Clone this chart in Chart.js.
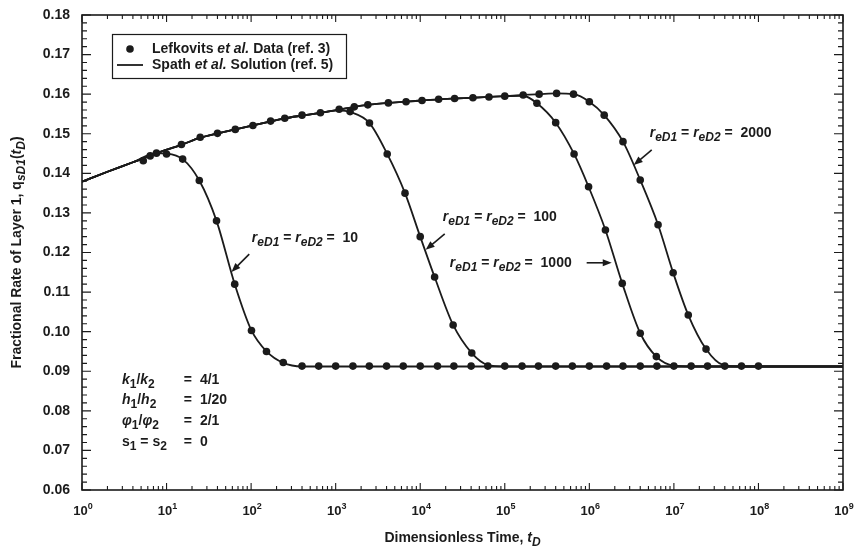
<!DOCTYPE html>
<html>
<head>
  <meta charset="UTF-8">
  <title>Fractional Rate of Layer 1</title>
  <script src="https://cdn.jsdelivr.net/npm/chart.js@4.4.1/dist/chart.umd.min.js"></script>
  <style>
    body { margin: 0; background: #ffffff; }
    canvas { display: block; }
  </style>
</head>
<body>
  <canvas id="rateChart" width="854" height="552"></canvas>

  <script>
    // Spath et al. solution: shared early-time curve, then one tail per reservoir size
    const envT = [1, 2, 4, 7.6, 15, 25, 40, 65, 105, 170, 250, 400, 660, 1100, 1660, 2400, 4200, 6800, 1.05e4, 1.65e4, 2.55e4, 4.2e4, 6.5e4, 1e5, 1.65e5];
    const envQ = [0.1379, 0.1404, 0.1428, 0.1451, 0.1472, 0.1490, 0.1501, 0.1511, 0.1521, 0.1531, 0.1539, 0.1546, 0.1553, 0.1561, 0.1568, 0.1573, 0.1578, 0.1581, 0.1584, 0.1587, 0.1589, 0.1591, 0.1593, 0.1595, 0.1598];

    const tailT10 = [10, 15.5, 24.4, 39, 64, 101, 152, 240, 400, 1e9];
    const tailQ10 = [0.1450, 0.1436, 0.1382, 0.1280, 0.1120, 0.1003, 0.0950, 0.0921, 0.0912, 0.0912];
    const tailT100 = [1100, 1480, 2510, 4070, 6610, 1e4, 1.48e4, 2.45e4, 4.07e4, 6.3e4, 1e5, 1e9];
    const tailQ100 = [0.1559, 0.1555, 0.1527, 0.1449, 0.1350, 0.1240, 0.1138, 0.1017, 0.0946, 0.0916, 0.0912, 0.0912];
    const tailT1000 = [1.65e5, 2.4e5, 4e5, 6.6e5, 9.8e5, 1.55e6, 2.45e6, 4e6, 6.2e6, 1e7, 1.6e7, 1e9];
    const tailQ1000 = [0.1596, 0.1577, 0.1528, 0.1449, 0.1366, 0.1257, 0.1122, 0.0996, 0.0937, 0.0914, 0.0912, 0.0912];
    const tailT2000 = [2.55e5, 4.1e5, 6.5e5, 1e6, 1.5e6, 2.5e6, 4e6, 6.5e6, 9.8e6, 1.48e7, 2.4e7, 3.8e7, 6.3e7, 1e9];
    const tailQ2000 = [0.1600, 0.1602, 0.1600, 0.1581, 0.1547, 0.1480, 0.1383, 0.1270, 0.1149, 0.1042, 0.0956, 0.0916, 0.0912, 0.0912];

    // Lefkovits et al. data points
    const dotT10 = [5.3, 6.4, 7.6, 10, 15.5, 24.4, 39, 64, 101, 152, 240];
    const dotQ10 = [0.1432, 0.1444, 0.1451, 0.1449, 0.1436, 0.1382, 0.1280, 0.1120, 0.1003, 0.0950, 0.0922];
    const dotTEnv = [15, 25, 40, 65, 105, 170, 250, 400, 660, 1100, 1660, 2400, 4200, 6800, 1.05e4, 1.65e4, 2.55e4, 4.2e4, 6.5e4, 1e5, 1.65e5, 2.55e5, 4.1e5, 6.5e5];
    const dotQEnv = [0.1473, 0.1491, 0.1501, 0.1511, 0.1521, 0.1532, 0.1539, 0.1547, 0.1553, 0.1562, 0.1568, 0.1573, 0.1578, 0.1581, 0.1584, 0.1587, 0.1589, 0.1591, 0.1593, 0.1595, 0.1598, 0.1600, 0.1602, 0.1600];
    const dotT100 = [1480, 2510, 4070, 6610, 1e4, 1.48e4, 2.45e4, 4.07e4];
    const dotQ100 = [0.1556, 0.1527, 0.1449, 0.1350, 0.1240, 0.1138, 0.1017, 0.0946];
    const dotT1000 = [2.4e5, 4e5, 6.6e5, 9.8e5, 1.55e6, 2.45e6, 4e6, 6.2e6];
    const dotQ1000 = [0.1577, 0.1528, 0.1449, 0.1366, 0.1257, 0.1122, 0.0996, 0.0937];
    const dotT2000 = [1e6, 1.5e6, 2.5e6, 4e6, 6.5e6, 9.8e6, 1.48e7, 2.4e7];
    const dotQ2000 = [0.1581, 0.1547, 0.1480, 0.1383, 0.1270, 0.1149, 0.1042, 0.0956];
    const dotTLate = [400, 630, 1000, 1600, 2500, 4000, 6300, 1e4, 1.6e4, 2.5e4, 4e4, 6.3e4, 1e5, 1.6e5, 2.5e5, 4e5, 6.3e5, 1e6, 1.6e6, 2.5e6, 4e6, 6.3e6, 1e7, 1.6e7, 2.5e7, 4e7, 6.3e7, 1e8];
    const dotQLate = [0.0913, 0.0913, 0.0913, 0.0913, 0.0913, 0.0913, 0.0913, 0.0913, 0.0913, 0.0913, 0.0913, 0.0913, 0.0913, 0.0913, 0.0913, 0.0913, 0.0913, 0.0913, 0.0913, 0.0913, 0.0913, 0.0913, 0.0913, 0.0913, 0.0913, 0.0913, 0.0913, 0.0913];

    const decades = [1, 1e1, 1e2, 1e3, 1e4, 1e5, 1e6, 1e7, 1e8, 1e9];

    const FONT = '"Liberation Sans", Arial, sans-serif';
    const INK = '#1b1b1b';

    function pairs(ts, qs) {
      return ts.map((t, i) => ({ x: t, y: qs[i] }));
    }

    // shared curve up to where the tail leaves it
    function solution(tailT, tailQ) {
      const head = [];
      envT.forEach((t, i) => { if (t < tailT[0]) head.push({ x: t, y: envQ[i] }); });
      return head.concat(pairs(tailT, tailQ));
    }

    const dots = [].concat(
      pairs(dotT10, dotQ10), pairs(dotTEnv, dotQEnv), pairs(dotT100, dotQ100),
      pairs(dotT1000, dotQ1000), pairs(dotT2000, dotQ2000), pairs(dotTLate, dotQLate)
    );

    // labels: "*x*" italic, "_{x}" subscript, "^{x}" superscript
    function parse(s) {
      const out = [];
      let it = false, mode = '', buf = '';
      const push = () => { if (buf) out.push({ t: buf, it, sub: mode === '_', sup: mode === '^' }); buf = ''; };
      for (let i = 0; i < s.length; i++) {
        const c = s[i];
        if (c === '*') { push(); it = !it; }
        else if ((c === '_' || c === '^') && s[i + 1] === '{') { push(); mode = c; i++; }
        else if (c === '}' && mode) { push(); mode = ''; }
        else buf += c;
      }
      push();
      return out;
    }

    function rich(ctx, s, x, y, size, align, small) {
      const parts = parse(s);
      const sm = small || 0.85;
      const fontOf = p => (p.it ? 'italic ' : '') + 'bold ' + ((p.sub || p.sup) ? Math.round(size * sm) : size) + 'px ' + FONT;
      let w = 0;
      parts.forEach(p => { ctx.font = fontOf(p); w += ctx.measureText(p.t).width; });
      let cx = align === 'center' ? x - w / 2 : x;
      ctx.textAlign = 'left';
      ctx.textBaseline = 'middle';
      parts.forEach(p => {
        ctx.font = fontOf(p);
        const dy = p.sub ? size * 0.32 : p.sup ? -size * 0.38 : 0;
        ctx.fillText(p.t, cx, y + dy);
        cx += ctx.measureText(p.t).width;
      });
    }

    const notes = [
      { text: '*r*_{*eD1*} = *r*_{*eD2*} =  10', at: [102, 0.1237], tail: [95, 0.1196], tip: [58.6, 0.1151] },
      { text: '*r*_{*eD1*} = *r*_{*eD2*} =  100', at: [18500, 0.1290], tail: [19500, 0.1247], tip: [11600, 0.1207] },
      { text: '*r*_{*eD1*} = *r*_{*eD2*} =  1000', at: [22400, 0.1174], tail: [9.3e5, 0.1174], tip: [1.84e6, 0.1174] },
      { text: '*r*_{*eD1*} = *r*_{*eD2*} =  2000', at: [5.18e6, 0.1502], tail: [5.47e6, 0.1459], tip: [3.35e6, 0.1421] }
    ];

    const params = [
      ['*k*_{1}/*k*_{2}', '4/1', 0.0878],
      ['*h*_{1}/*h*_{2}', '1/20', 0.0826],
      ['*φ*_{1}/*φ*_{2}', '2/1', 0.0775],
      ['s_{1} = s_{2}', '0', 0.0722]
    ];

    const decor = {
      id: 'decor',
      afterDraw(chart) {
        const ctx = chart.ctx;
        const a = chart.chartArea;
        const sx = chart.scales.x, sy = chart.scales.y;
        const px = (t, q) => [sx.getPixelForValue(t), sy.getPixelForValue(q)];
        ctx.save();
        ctx.strokeStyle = INK;
        ctx.fillStyle = INK;

        // frame
        ctx.lineWidth = 1.6;
        ctx.strokeRect(a.left, a.top, a.right - a.left, a.bottom - a.top);

        // inward ticks on all four sides
        ctx.lineWidth = 1.1;
        ctx.beginPath();
        sx.ticks.forEach(tk => {
          const d = tk.value;
          const x0 = sx.getPixelForValue(d);
          ctx.moveTo(x0, a.bottom); ctx.lineTo(x0, a.bottom - 7);
          ctx.moveTo(x0, a.top); ctx.lineTo(x0, a.top + 7);
          if (d >= 1e9) return;
          for (let m = 2; m <= 9; m++) {
            const x = sx.getPixelForValue(d * m);
            ctx.moveTo(x, a.bottom); ctx.lineTo(x, a.bottom - 4);
            ctx.moveTo(x, a.top); ctx.lineTo(x, a.top + 4);
          }
        });
        for (let k = 0; k <= 60; k++) {
          const y = sy.getPixelForValue(sy.min + k * 0.002);
          const len = k % 5 === 0 ? 9 : 5;
          ctx.moveTo(a.left, y); ctx.lineTo(a.left + len, y);
          ctx.moveTo(a.right, y); ctx.lineTo(a.right - len, y);
        }
        ctx.stroke();

        // x tick labels, powers of ten
        sx.ticks.forEach(tk => {
          const n = Math.round(Math.log10(tk.value));
          rich(ctx, '10^{' + n + '}', sx.getPixelForValue(tk.value) + 1, a.bottom + 21, 13, 'center', 0.72);
        });

        // axis titles
        rich(ctx, 'Dimensionless Time, *t*_{*D*}', (a.left + a.right) / 2, a.bottom + 48, 14, 'center');
        ctx.save();
        ctx.translate(17, (a.top + a.bottom) / 2);
        ctx.rotate(-Math.PI / 2);
        rich(ctx, 'Fractional Rate of Layer 1, q_{*sD1*}(*t*_{*D*})', 0, 0, 14, 'center');
        ctx.restore();

        // legend
        const lx = a.left + 30, ly = a.top + 19;
        ctx.lineWidth = 1.2;
        ctx.strokeRect(lx + 0.5, ly + 0.5, 234, 44);
        ctx.beginPath();
        ctx.arc(lx + 18, ly + 15, 3.8, 0, Math.PI * 2);
        ctx.fill();
        ctx.lineWidth = 1.8;
        ctx.beginPath();
        ctx.moveTo(lx + 5, ly + 31); ctx.lineTo(lx + 31, ly + 31);
        ctx.stroke();
        rich(ctx, 'Lefkovits *et al.* Data (ref. 3)', lx + 40, ly + 15, 14, 'left');
        rich(ctx, 'Spath *et al.* Solution (ref. 5)', lx + 40, ly + 31, 14, 'left');

        // curve labels with arrows
        notes.forEach(nt => {
          const [tx, ty] = px(nt.at[0], nt.at[1]);
          rich(ctx, nt.text, tx, ty, 14, 'left');
          const [x1, y1] = px(nt.tail[0], nt.tail[1]);
          const [x2, y2] = px(nt.tip[0], nt.tip[1]);
          const ang = Math.atan2(y2 - y1, x2 - x1);
          ctx.lineWidth = 1.6;
          ctx.beginPath();
          ctx.moveTo(x1, y1); ctx.lineTo(x2 - 5 * Math.cos(ang), y2 - 5 * Math.sin(ang));
          ctx.stroke();
          ctx.beginPath();
          ctx.moveTo(x2, y2);
          ctx.lineTo(x2 - 9 * Math.cos(ang) + 3.5 * Math.sin(ang), y2 - 9 * Math.sin(ang) - 3.5 * Math.cos(ang));
          ctx.lineTo(x2 - 9 * Math.cos(ang) - 3.5 * Math.sin(ang), y2 - 9 * Math.sin(ang) + 3.5 * Math.cos(ang));
          ctx.closePath();
          ctx.fill();
        });

        // reservoir parameters
        params.forEach(([lab, val, q]) => {
          const y = sy.getPixelForValue(q);
          rich(ctx, lab, sx.getPixelForValue(2.97), y, 14, 'left');
          rich(ctx, '=', sx.getPixelForValue(17.9), y, 14, 'center');
          rich(ctx, val, sx.getPixelForValue(24.8), y, 14, 'left');
        });

        ctx.restore();
      }
    };

    const lineStyle = {
      type: 'line',
      borderColor: INK,
      borderWidth: 1.8,
      pointRadius: 0,
      fill: false,
      cubicInterpolationMode: 'monotone'
    };

    new Chart(document.getElementById('rateChart'), {
      type: 'scatter',
      data: {
        datasets: [
          { label: 'Lefkovits et al. Data (ref. 3)', data: dots, pointRadius: 3.8, pointBackgroundColor: INK, pointBorderWidth: 0, showLine: false },
          Object.assign({ label: 'reD = 10', data: solution(tailT10, tailQ10) }, lineStyle),
          Object.assign({ label: 'reD = 100', data: solution(tailT100, tailQ100) }, lineStyle),
          Object.assign({ label: 'reD = 1000', data: solution(tailT1000, tailQ1000) }, lineStyle),
          Object.assign({ label: 'reD = 2000', data: solution(tailT2000, tailQ2000) }, lineStyle)
        ]
      },
      options: {
        responsive: false,
        animation: false,
        devicePixelRatio: 1,
        layout: { padding: { top: 15, right: 11, left: 0, bottom: 0 } },
        plugins: { legend: { display: false }, tooltip: { enabled: false } },
        scales: {
          x: {
            type: 'logarithmic',
            min: 1,
            max: 1e9,
            grid: { display: false },
            border: { display: false },
            ticks: { display: false },
            afterBuildTicks: s => { s.ticks = decades.map(v => ({ value: v })); },
            afterFit: s => { s.height = 62; }
          },
          y: {
            min: 0.06,
            max: 0.18,
            grid: { display: false },
            border: { display: false },
            ticks: {
              stepSize: 0.01,
              padding: 4,
              color: INK,
              font: { family: FONT, size: 14, weight: 'bold' },
              callback: v => v.toFixed(2)
            },
            afterFit: s => { s.width = 82; }
          }
        }
      },
      plugins: [decor]
    });
  </script>
</body>
</html>
